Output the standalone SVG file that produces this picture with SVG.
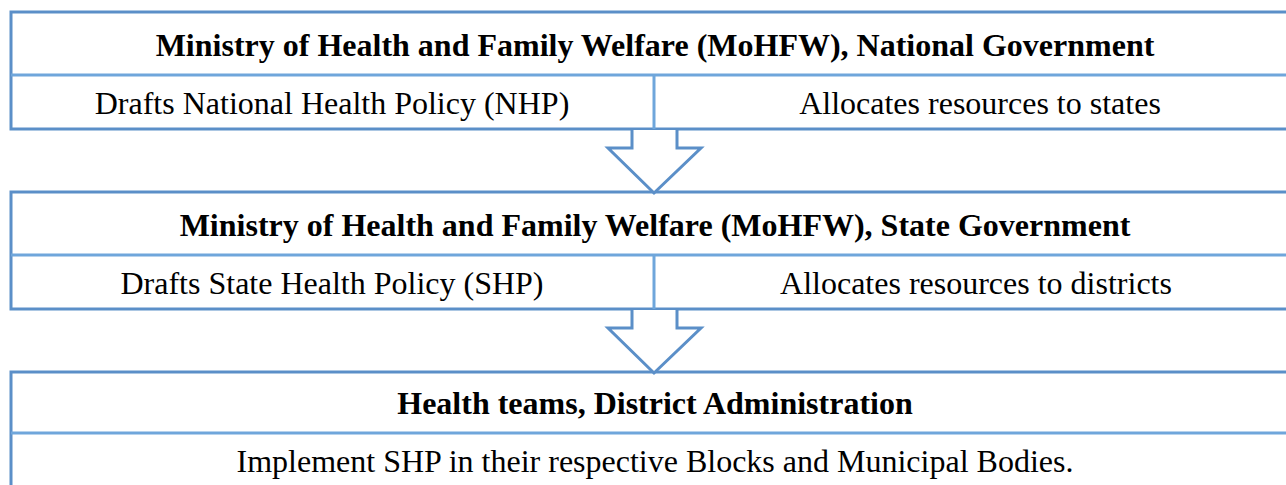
<svg xmlns="http://www.w3.org/2000/svg" width="1286" height="485" viewBox="0 0 1286 485">
  <style>
    .frame { fill: none; stroke: #5B8FC8; stroke-width: 3; }
    .rule { fill: none; stroke: #6FA6DB; stroke-width: 3; }
    .arrow { fill: #FFFFFF; stroke: #5B8FC8; stroke-width: 3; stroke-linejoin: miter; }
    .head { font-family: "Liberation Serif", "Times New Roman", serif; font-weight: bold; font-size: 32px; fill: #000; text-anchor: middle; }
    .body { font-family: "Liberation Serif", "Times New Roman", serif; font-size: 32px; fill: #000; text-anchor: middle; }
  </style>
  <rect width="1286" height="485" fill="#FFFFFF"/>

  <!-- National level -->
  <g id="national">
    <rect class="frame" x="11" y="12" width="1290" height="117"/>
    <line class="rule" x1="11" y1="75" x2="1301" y2="75"/>
    <line class="rule" x1="654" y1="75" x2="654" y2="129"/>
    <text class="head" x="655" y="56">Ministry of Health and Family Welfare (MoHFW), National Government</text>
    <text class="body" x="332" y="114">Drafts National Health Policy (NHP)</text>
    <text class="body" x="980" y="114">Allocates resources to states</text>
  </g>

  <!-- State level -->
  <g id="state">
    <rect class="frame" x="11" y="192" width="1290" height="117"/>
    <line class="rule" x1="11" y1="255" x2="1301" y2="255"/>
    <line class="rule" x1="654" y1="255" x2="654" y2="309"/>
    <text class="head" x="655" y="236">Ministry of Health and Family Welfare (MoHFW), State Government</text>
    <text class="body" x="332" y="294">Drafts State Health Policy (SHP)</text>
    <text class="body" x="976" y="294">Allocates resources to districts</text>
  </g>

  <!-- District level -->
  <g id="district">
    <rect class="frame" x="11" y="372" width="1290" height="130"/>
    <line class="rule" x1="11" y1="433" x2="1301" y2="433"/>
    <text class="head" x="655" y="414">Health teams, District Administration</text>
    <text class="body" x="655" y="472">Implement SHP in their respective Blocks and Municipal Bodies.</text>
  </g>

  <!-- Block arrows between levels -->
  <g id="connectors">
    <path class="arrow" d="M632,130 V148 H608 L654,193 L701,148 H677 V130"/>
    <path class="arrow" d="M632,310 V328 H608 L654,373 L701,328 H677 V310"/>
  </g>
</svg>
